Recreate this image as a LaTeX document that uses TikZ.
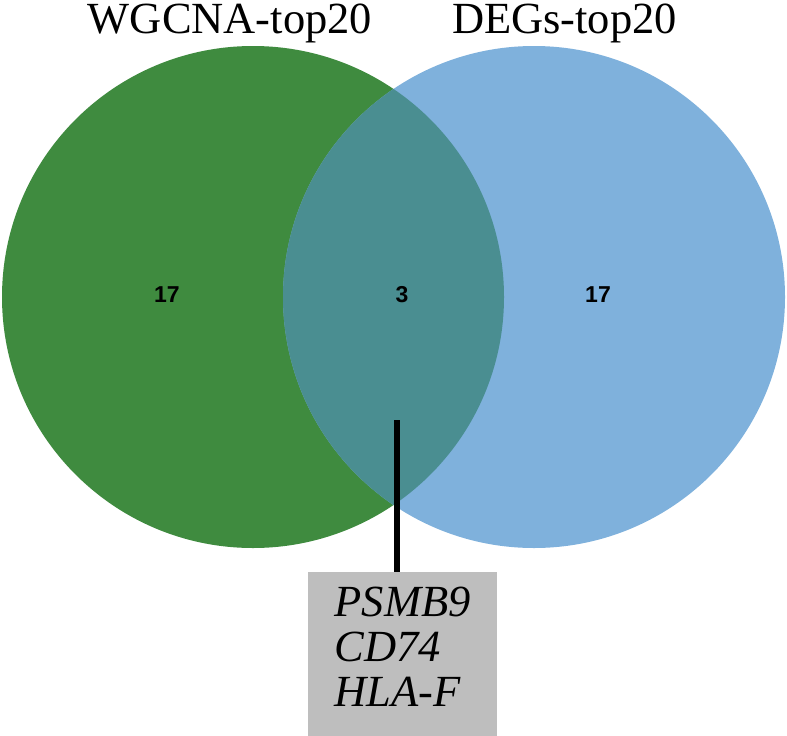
\documentclass[tikz,border=0pt]{standalone}
\usepackage{fontspec}
\setmainfont{Liberation Serif}
\newfontfamily\numfont{Liberation Sans}
\definecolor{vgreen}{HTML}{3F8B3F}
\definecolor{vblue}{HTML}{7FB1DC}
\definecolor{vteal}{HTML}{4A8E91}
\definecolor{boxgray}{HTML}{BEBEBE}
\tikzset{
  setcircle/.style={circle, minimum size=502pt, inner sep=0pt},
  titletext/.style={anchor=base, inner sep=0pt, text height=30pt, font=\fontsize{44.5}{45}\selectfont},
  countlabel/.style={font=\numfont\bfseries\fontsize{23}{24}\selectfont, inner sep=0pt},
  genebox/.style={fill=boxgray, anchor=north west, minimum width=189pt, minimum height=164pt,
    inner sep=0pt, align=left, text depth=14pt, font=\fontsize{44.5}{45}\selectfont\itshape},
  leader/.style={line width=6pt, black}
}
\begin{document}
\begin{tikzpicture}[x=1pt,y=-1pt]
\useasboundingbox (0,0) rectangle (787,736);
\node[setcircle, fill=vgreen] (wg) at (253,297) {};
\node[setcircle, fill=vblue] (de) at (534,297) {};
\begin{scope}
  \clip (253,297) circle (251pt);
  \fill[vteal] (534,297) circle (251pt);
\end{scope}
\node[titletext] (twg) at (230,33) {WGCNA-top20};
\node[titletext] (tde) at (564.5,33) {DEGs-top20};
\node[countlabel] (n1) at (167,295) {17};
\node[countlabel] (n2) at (402,295) {3};
\node[countlabel] (n3) at (598,295) {17};
\node[genebox] (box) at (308,572) {PSMB9\\CD74\\HLA-F};
\coordinate (tip) at (397,420);
\draw[leader] (tip) -- (tip |- box.north);
\end{tikzpicture}
\end{document}
